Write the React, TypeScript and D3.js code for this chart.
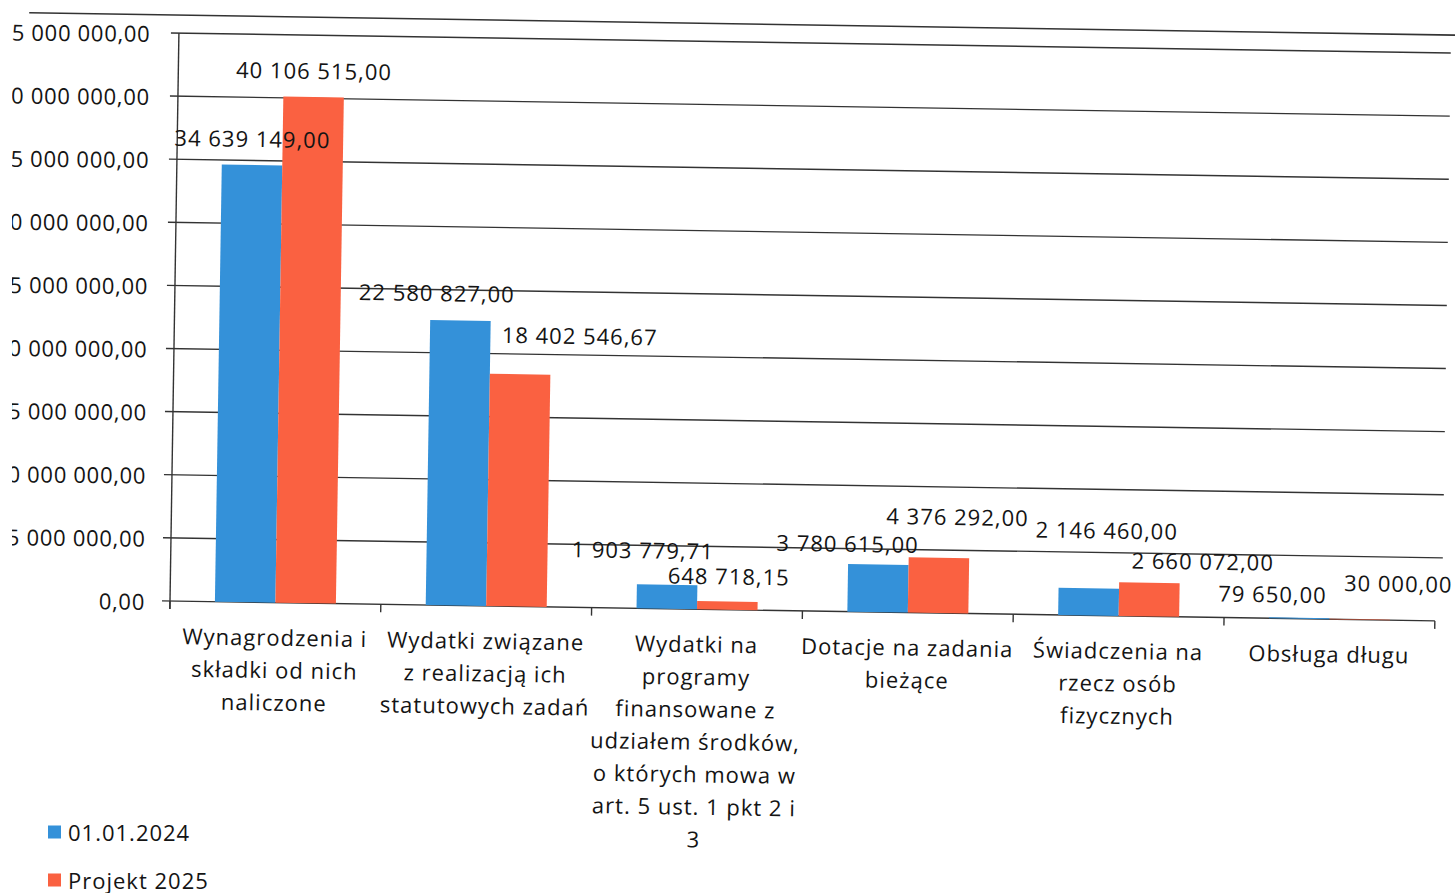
import React from "react";
import * as d3 from "d3";

const categories: string[][] = [
  ["Wynagrodzenia i", "składki od nich", "naliczone"],
  ["Wydatki związane", "z realizacją ich", "statutowych zadań"],
  ["Wydatki na", "programy", "finansowane z", "udziałem środków,", "o których mowa w", "art. 5 ust. 1 pkt 2 i", "3"],
  ["Dotacje na zadania", "bieżące"],
  ["Świadczenia na", "rzecz osób", "fizycznych"],
  ["Obsługa długu"],
];
const seriesNames = ["01.01.2024", "Projekt 2025"];
const values2024 = [34639149, 22580827, 1903779.71, 3780615, 2146460, 79650];
const values2025 = [40106515, 18402546.67, 648718.15, 4376292, 2660072, 30000];
const yTicks = [0, 5e6, 10e6, 15e6, 20e6, 25e6, 30e6, 35e6, 40e6, 45e6];

// label placement tweaks (dx, dy from bar top centre)
const labelOffsets2024 = [[0, -27], [-24, -28], [-25, -35], [-31, -21], [17, -59], [-27, -24]];
const labelOffsets2025 = [[0, -27], [59, -40], [1, -26], [18, -42], [53, -23], [38, -37]];

const colors = ["#3491D9", "#FA6141"];
const FONT = "'Open Sans', 'Noto Sans', sans-serif";
const TEXT = "#141414";
const LINE = "#333333";

const locale = d3.formatLocale({ decimal: ",", thousands: " ", grouping: [3], currency: ["", ""] });
const fmt = locale.format(",.2f");

export default function App() {
  const W = 1455, H = 893;
  const x0 = 170, x1 = 1435, yBase = 601, yTop = 33;
  const x = d3.scaleBand<number>().domain(d3.range(categories.length)).range([x0, x1]).paddingInner(0).paddingOuter(0);
  const y = d3.scaleLinear().domain([0, 45e6]).range([yBase, yTop]);
  const groupW = 121;
  const xs = d3.scaleBand<number>().domain([0, 1]).range([0, groupW]).padding(0);
  const series = [values2024, values2025];
  const offsets = [labelOffsets2024, labelOffsets2025];
  const fs = 22;
  const ls = 1;
  const rot = `rotate(0.9, ${x0}, ${yBase})`;

  return (
    <svg width={W} height={H} style={{ position: "absolute", left: 0, top: 0, background: "#fff" }} fontFamily={FONT} letterSpacing={ls}>
      <defs>
        <clipPath id="scanEdge" clipPathUnits="userSpaceOnUse">
          <rect x={12} y={0} width={W} height={H} />
        </clipPath>
      </defs>
      <g clipPath="url(#scanEdge)">
        <g transform={`rotate(0.55, ${x0}, ${yBase})`}>
          {yTicks.map((t) => (
            <text key={t} x={x0 - 25} y={y(t)} textAnchor="end" dominantBaseline="central" fontSize={fs} fill={TEXT} letterSpacing={0.7}>
              {fmt(t)}
            </text>
          ))}
        </g>
      </g>
      <g transform={rot}>
        <line x1={20} x2={1480} y1={15} y2={15} stroke={LINE} strokeWidth={1.6} />
        {yTicks.map((t) => (
          <line key={t} x1={x0 - 8} x2={t === 0 ? x1 : 1442} y1={y(t)} y2={y(t)} stroke={LINE} strokeWidth={1.4} />
        ))}
        <line x1={x0} x2={x0} y1={yTop} y2={yBase + 8} stroke={LINE} strokeWidth={1.4} />
        {d3.range(categories.length + 1).map((i) => {
          const xx = x0 + i * x.bandwidth();
          return <line key={i} x1={xx} x2={xx} y1={yBase} y2={yBase + 8} stroke={LINE} strokeWidth={1.4} />;
        })}
        {series.map((vals, s) =>
          vals.map((v, i) => {
            const gx = (x(i) as number) + (x.bandwidth() - groupW) / 2 + (xs(s) as number);
            return (
              <rect key={`b${s}-${i}`} x={gx} y={y(v)} width={xs.bandwidth()} height={yBase - y(v)} fill={colors[s]} />
            );
          })
        )}
        {series.map((vals, s) =>
          vals.map((v, i) => {
            const cx = (x(i) as number) + (x.bandwidth() - groupW) / 2 + (xs(s) as number) + xs.bandwidth() / 2;
            const [dx, dy] = offsets[s][i];
            return (
              <text key={`l${s}-${i}`} x={cx + dx} y={y(v) + dy} textAnchor="middle" dominantBaseline="central" fontSize={fs} fill={TEXT}>
                {fmt(v)}
              </text>
            );
          })
        )}
        {categories.map((lines, i) => (
          <text key={`c${i}`} textAnchor="middle" fontSize={fs} fill={TEXT}>
            {lines.map((ln, j) => (
              <tspan key={j} x={(x(i) as number) + x.bandwidth() / 2} y={yBase + 34 + j * 32.5} dominantBaseline="central">
                {ln}
              </tspan>
            ))}
          </text>
        ))}
      </g>
      {seriesNames.map((n, s) => (
        <g key={n} transform={`translate(48, ${832 + s * 48})`}>
          <rect x={0} y={-6.5} width={13} height={13} fill={colors[s]} />
          <text x={20} y={0} dominantBaseline="central" fontSize={fs} fill={TEXT}>
            {n}
          </text>
        </g>
      ))}
    </svg>
  );
}
